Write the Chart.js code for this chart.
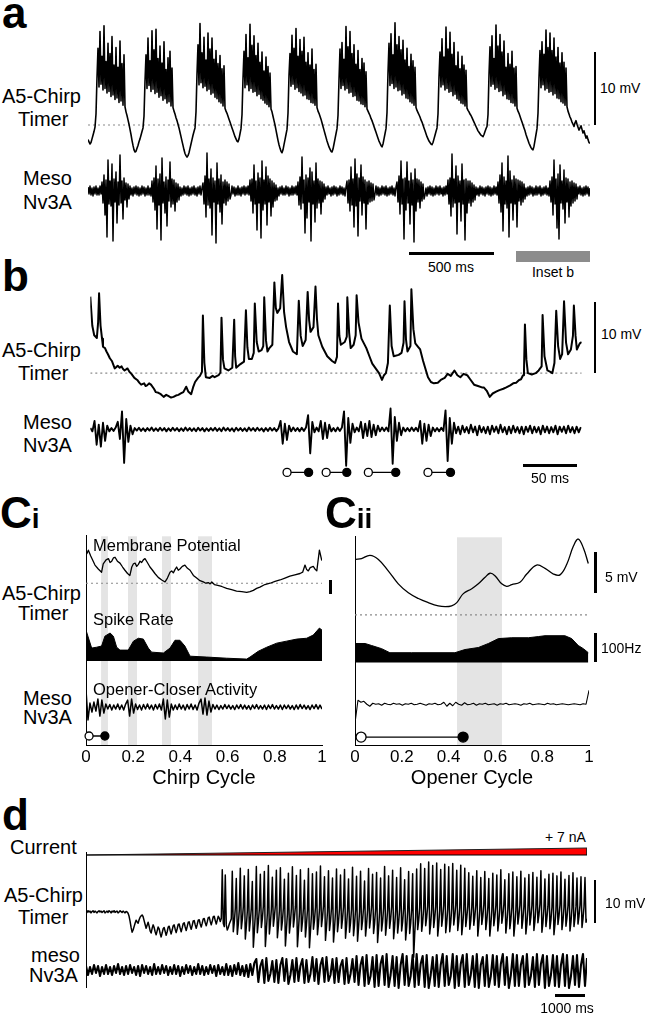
<!DOCTYPE html>
<html>
<head>
<meta charset="utf-8">
<script src="https://cdn.jsdelivr.net/npm/chart.js@4.4.0/dist/chart.umd.min.js"></script>
<style>
body { margin: 0; background: #fff; }
#fig { position: relative; width: 645px; height: 1016px; overflow: hidden; font-family: "Liberation Sans", Arial, sans-serif; color: #000; }
#fig canvas { position: absolute; }
.t { position: absolute; white-space: nowrap; line-height: 1; font-size: 20px; }
.s { position: absolute; white-space: nowrap; line-height: 1; font-size: 14px; }
.c { transform: translateX(-50%); }
.sub { position: absolute; white-space: nowrap; line-height: 1; font-size: 16.5px; }
.bar { position: absolute; background: #000; }
.letter { position: absolute; font-weight: bold; font-size: 44px; line-height: 1; }
</style>
</head>
<body>
<div id="fig">
  <!-- panel a -->
  <div class="letter" style="left:2px;top:-9px">a</div>
  <div class="t" style="left:2px;top:86px">A5-Chirp</div>
  <div class="t" style="left:18px;top:109px">Timer</div>
  <div class="t" style="left:23px;top:168px">Meso</div>
  <div class="t" style="left:23px;top:192px">Nv3A</div>
  <canvas id="chartA" width="502" height="250" style="left:88px;top:0px"></canvas>
  <div class="bar" style="left:594px;top:52px;width:2px;height:73px"></div>
  <div class="s" style="left:600px;top:81px">10 mV</div>
  <div class="bar" style="left:409px;top:252px;width:85px;height:3px"></div>
  <div class="s c" style="left:451px;top:260px">500 ms</div>
  <div class="bar" style="left:516px;top:251px;width:74px;height:11px;background:#8c8c8c"></div>
  <div class="s c" style="left:553px;top:265px">Inset b</div>

  <!-- panel b -->
  <div class="letter" style="left:2px;top:254px">b</div>
  <div class="t" style="left:2px;top:340px">A5-Chirp</div>
  <div class="t" style="left:18px;top:363px">Timer</div>
  <div class="t" style="left:23px;top:412px">Meso</div>
  <div class="t" style="left:23px;top:435px">Nv3A</div>
  <canvas id="chartB" width="502" height="230" style="left:85px;top:262px"></canvas>
  <div class="bar" style="left:594px;top:302px;width:2px;height:71px"></div>
  <div class="s" style="left:601px;top:327px">10 mV</div>
  <div class="bar" style="left:523px;top:464px;width:54px;height:3px"></div>
  <div class="s c" style="left:550px;top:471px">50 ms</div>

  <!-- panel Ci -->
  <div class="letter" style="left:0px;top:491px">C<span style="font-size:28px">i</span></div>
  <div class="t" style="left:2px;top:583px">A5-Chirp</div>
  <div class="t" style="left:18px;top:603px">Timer</div>
  <div class="t" style="left:23px;top:688px">Meso</div>
  <div class="t" style="left:23px;top:707px">Nv3A</div>
  <canvas id="chartCi" width="280" height="265" style="left:60px;top:530px"></canvas>
  <div class="sub" style="left:93px;top:537px">Membrane Potential</div>
  <div class="sub" style="left:93px;top:611px">Spike Rate</div>
  <div class="sub" style="left:93px;top:681px">Opener-Closer Activity</div>
  <div class="bar" style="left:329px;top:580px;width:3px;height:14px"></div>

  <!-- panel Cii -->
  <div class="letter" style="left:325px;top:491px">C<span style="font-size:28px">ii</span></div>
  <canvas id="chartCii" width="280" height="265" style="left:329px;top:530px"></canvas>
  <div class="bar" style="left:594px;top:552px;width:3px;height:41px"></div>
  <div class="s" style="left:605px;top:570px">5 mV</div>
  <div class="bar" style="left:594px;top:633px;width:3px;height:29px"></div>
  <div class="s" style="left:601px;top:641px">100Hz</div>

  <!-- panel d -->
  <div class="letter" style="left:2px;top:793px">d</div>
  <div class="t" style="left:10px;top:837px">Current</div>
  <div class="t" style="left:4px;top:885px">A5-Chirp</div>
  <div class="t" style="left:18px;top:907px">Timer</div>
  <div class="t" style="left:31px;top:945px">meso</div>
  <div class="t" style="left:29px;top:965px">Nv3A</div>
  <div class="s" style="left:545px;top:830px">+ 7 nA</div>
  <canvas id="chartD" width="501" height="170" style="left:86px;top:830px"></canvas>
  <div class="bar" style="left:86px;top:852px;width:1px;height:136px"></div>
  <div class="bar" style="left:594px;top:880px;width:2px;height:43px"></div>
  <div class="s" style="left:605px;top:896px">10 mV</div>
  <div class="bar" style="left:555px;top:994px;width:30px;height:3px"></div>
  <div class="s c" style="left:567px;top:1001px">1000 ms</div>
</div>

<script>
const FONT = '"Liberation Sans", Arial, sans-serif';

// ---------- panel a : both traces sampled every 5.75 ms; timer in mV from rest, meso in a.u.
const aStepMs = 5.75;
const aTimerMv = [
  -2.0, -2.3, -2.6, -2.4, -1.9, -1.4, -0.9, -0.3,
  // chirp 1
  1.5, 6.5, 10.5, 5.2, 12.8, 5.6, 9.4, 4.8, 13.6, 5.0, 8.7, 4.4, 11.2, 4.6, 9.8, 3.9, 12.1, 4.1, 8.2, 3.5, 10.6, 3.7, 7.9, 3.1, 11.5, 3.3, 8.4, 2.7, 9.6, 2.5,
  1.8, 1.3, 0.7, 0.1, -0.6, -1.3, -2.1, -2.8, -3.4, -3.7, -3.6, -3.2, -2.8, -2.3, -1.9, -1.4, -0.9, -0.4,
  // chirp 2
  1.2, 6.0, 9.6, 5.0, 11.9, 5.4, 8.8, 4.6, 12.9, 4.9, 10.3, 4.3, 13.1, 4.5, 9.1, 3.8, 10.8, 4.0, 8.5, 3.4, 11.4, 3.6, 7.6, 3.0, 9.2, 3.2, 10.1, 2.6, 7.8, 2.4,
  1.9, 1.5, 1.0, 0.6, 0.1, -0.4, -1.0, -1.6, -2.2, -2.8, -3.4, -3.9, -4.2, -4.4, -4.2, -3.8, -3.2, -2.6, -2.0, -1.4, -0.9, -0.4,
  // chirp 3
  1.8, 7.0, 11.0, 5.5, 13.9, 5.8, 9.9, 5.1, 12.0, 5.3, 8.9, 4.7, 12.6, 4.9, 10.4, 4.2, 11.9, 4.4, 9.0, 3.8, 10.2, 3.6, 8.4, 3.2, 9.5, 3.0, 7.7, 2.6, 8.1, 2.3,
  1.9, 1.6, 1.2, 0.8, 0.4, 0.0, -0.4, -0.8, -1.2, -1.6, -1.9, -2.2, -2.3, -1.9, -1.2, -0.5,
  // chirp 4
  1.4, 6.4, 10.1, 5.1, 12.4, 5.5, 9.2, 4.7, 13.8, 5.0, 10.9, 4.5, 12.2, 4.6, 9.5, 4.0, 11.2, 4.2, 8.6, 3.6, 10.0, 3.4, 7.4, 3.0, 9.3, 2.8, 8.0, 2.5, 7.1, 2.2,
  1.8, 1.2, 0.6, 0.0, -0.7, -1.4, -2.1, -2.7, -3.2, -3.6, -3.8, -3.4, -2.7, -2.0, -1.3, -0.6,
  // chirp 5
  1.6, 6.8, 9.8, 5.3, 12.3, 5.6, 10.5, 4.9, 13.2, 5.1, 9.4, 4.6, 11.7, 4.4, 10.1, 4.0, 12.0, 4.1, 8.6, 3.6, 9.9, 3.5, 8.2, 3.1, 10.4, 3.0, 7.6, 2.7, 8.3, 2.4,
  1.9, 1.6, 1.2, 0.8, 0.3, -0.2, -0.7, -1.2, -1.7, -2.2, -2.6, -3.0, -3.3, -3.6, -3.7, -3.3, -2.6, -1.9, -1.2, -0.5,
  // chirp 6
  1.3, 6.2, 10.4, 5.0, 11.3, 5.4, 9.0, 4.8, 13.5, 5.0, 10.7, 4.4, 12.8, 4.5, 9.8, 3.9, 11.0, 4.0, 8.3, 3.4, 10.2, 3.3, 7.6, 2.9, 9.1, 2.8, 8.5, 2.5, 7.3, 2.2,
  1.9, 1.6, 1.3, 0.9, 0.6, 0.2, -0.2, -0.6, -1.0, -1.4, -1.8, -2.2, -2.5, -2.8, -3.0, -2.6, -1.9, -1.2, -0.5,
  // chirp 7
  1.7, 7.2, 11.2, 5.4, 12.5, 5.7, 9.6, 5.0, 14.0, 5.2, 11.0, 4.7, 12.1, 4.8, 10.3, 4.1, 11.6, 4.3, 8.9, 3.7, 10.5, 3.6, 8.0, 3.2, 9.7, 3.0, 8.8, 2.7, 7.9, 2.4,
  2.0, 1.7, 1.4, 1.1, 0.7, 0.4, 0.0, -0.4, -0.8, -1.2, -1.6, -1.9, -2.2, -2.4, -2.6, -2.7, -2.4, -1.9, -1.4, -0.9, -0.4,
  // chirp 8
  1.5, 6.6, 10.0, 5.2, 11.8, 5.5, 9.3, 4.8, 13.4, 5.0, 10.4, 4.5, 12.7, 4.6, 9.7, 4.0, 11.3, 4.2, 8.1, 3.6, 10.0, 3.4, 7.7, 3.0, 9.4, 2.9, 8.2, 2.6, 7.5, 2.3,
  2.0, 1.8, 1.5, 1.3, 1.0, 0.7, 0.4, 0.1, -0.2, -0.5, -0.8, -1.0, -1.2, -1.4, -1.5, -1.6, -1.3, -0.9, -0.5, -0.2,
  // chirp 9
  1.4, 6.9, 10.7, 5.3, 12.2, 5.6, 9.1, 4.9, 13.7, 5.1, 10.8, 4.6, 12.4, 4.7, 10.0, 4.0, 11.5, 4.2, 7.9, 3.6, 9.8, 3.5, 8.3, 3.1, 10.1, 3.0, 7.8, 2.6, 8.0, 2.3,
  1.9, 1.6, 1.2, 0.8, 0.4, 0.0, -0.4, -0.8, -1.3, -1.7, -2.1, -2.5, -2.8, -3.1, -3.3, -3.4, -2.9, -2.1, -1.3, -0.5,
  // chirp 10
  1.6, 6.5, 10.2, 5.1, 11.4, 5.5, 9.7, 4.8, 13.0, 5.0, 10.6, 4.5, 12.6, 4.6, 10.2, 4.1, 11.9, 4.3, 9.3, 3.7, 10.6, 3.6, 8.5, 3.2, 9.9, 3.0, 8.6, 2.7, 7.8, 2.5,
  1.9, 1.5, 1.1, 0.8, 0.4, 0.1, -0.2, 0.3, 0.6, 0.1, -0.3, -0.7, -0.4, -0.1, -0.6, -1.1, -0.8, -1.3, -1.8, -1.5, -2.0, -2.4, -2.5
];
const aMeso = [
  0.4, -0.3, 0.5, -0.4, 0.3, -0.5, 0.4, -0.3, 0.5, -0.4, 0.3, -0.4, 0.5, -0.3,
  0.9, -1.2, 1.6, -2.4, 1.1, -4.6, 3.1, -1.3, 1.0, -1.5, 2.7, -5.0, 1.2, -1.1, 1.9, -3.2, 0.9, -1.4, 3.6, -1.2, 1.0, -2.8, 1.3, -0.9, 0.8, -1.6, 0.7, -0.8,
  0.5, -0.4, 0.3, -0.5, 0.4, -0.3, 0.5, -0.4, 0.4, -0.5, 0.3, -0.4, 0.5, -0.3, 0.4, -0.5, 0.3, -0.4, 0.5, -0.4, 0.3, -0.5,
  1.0, -1.1, 1.3, -1.9, 2.5, -3.8, 1.2, -1.4, 1.7, -4.9, 3.3, -1.2, 0.9, -2.2, 1.4, -3.5, 1.1, -1.0, 2.9, -1.6, 1.2, -1.3, 1.1, -2.0, 0.8, -1.1, 0.7, -0.9,
  0.4, -0.5, 0.3, -0.4, 0.5, -0.3, 0.4, -0.4, 0.5, -0.5, 0.3, -0.4, 0.4, -0.3, 0.5, -0.4, 0.3, -0.5, 0.4, -0.3, 0.5, -0.4, 0.3,
  0.8, -1.3, 1.5, -2.6, 3.8, -1.4, 1.2, -1.7, 2.2, -4.4, 1.3, -1.1, 1.0, -5.2, 2.8, -1.3, 1.2, -2.1, 1.6, -3.3, 0.9, -1.2, 1.1, -1.4, 0.9, -1.0, 0.7, -0.8,
  -0.4, 0.5, -0.3, 0.4, -0.5, 0.3, -0.4, 0.5, -0.4, 0.3, -0.5, 0.4, -0.3, 0.5, -0.4, 0.4, -0.3, 0.5, -0.4,
  1.1, -1.0, 1.2, -2.2, 2.6, -1.3, 1.0, -3.9, 1.8, -1.2, 1.3, -4.7, 3.0, -1.9, 1.1, -1.3, 2.4, -3.4, 1.5, -1.1, 1.2, -2.5, 1.0, -1.6, 0.8, -1.0, 0.6, -0.9,
  0.3, -0.5, 0.4, -0.3, 0.5, -0.4, 0.3, -0.4, 0.5, -0.3, 0.4, -0.5, 0.3, -0.4, 0.5, -0.4, 0.4, -0.3, 0.5, -0.4,
  0.9, -1.4, 1.4, -1.8, 3.4, -1.2, 1.1, -4.2, 1.6, -2.7, 1.3, -1.1, 2.3, -5.0, 1.9, -1.3, 1.0, -3.1, 2.8, -1.7, 1.2, -1.2, 1.0, -2.3, 0.9, -1.1, 0.7, -0.8,
  0.4, -0.4, 0.5, -0.3, 0.3, -0.5, 0.4, -0.4, 0.5, -0.3, 0.4, -0.5, 0.3, -0.4, 0.5, -0.3, 0.4, -0.4, 0.3, -0.5, 0.4,
  1.0, -1.2, 1.1, -2.0, 2.4, -1.4, 1.2, -3.6, 3.2, -1.5, 1.7, -4.5, 1.3, -1.0, 2.6, -2.4, 1.4, -1.2, 1.1, -3.8, 0.9, -1.3, 1.0, -1.1, 0.8, -1.0, 0.7, -0.9,
  -0.3, 0.5, -0.4, 0.4, -0.5, 0.3, -0.4, 0.5, -0.3, 0.4, -0.4, 0.5, -0.5, 0.3, -0.4, 0.4, -0.3, 0.5, -0.4, 0.3, -0.5, 0.4,
  0.9, -1.1, 1.5, -2.3, 3.0, -1.3, 1.2, -4.8, 1.3, -1.9, 2.9, -1.2, 1.0, -3.3, 1.8, -1.4, 1.1, -5.1, 2.2, -2.0, 1.2, -1.1, 1.1, -1.7, 0.9, -1.0, 0.7, -0.8,
  -0.4, 0.3, -0.5, 0.4, -0.3, 0.5, -0.4, 0.4, -0.5, 0.3, -0.4, 0.5, -0.3, 0.4, -0.4, 0.5, -0.3, 0.3, -0.5, 0.4, -0.4, 0.5, -0.3,
  1.1, -1.3, 1.3, -2.5, 3.7, -1.6, 1.2, -1.2, 2.5, -4.3, 1.5, -1.1, 1.0, -3.0, 2.7, -1.3, 1.1, -4.9, 1.2, -2.2, 1.0, -1.2, 1.0, -1.5, 0.8, -1.1, 0.6, -0.9,
  0.4, -0.4, 0.3, -0.5, 0.5, -0.3, 0.4, -0.4, 0.3, -0.5, 0.4, -0.3, 0.5, -0.4, 0.4, -0.5, 0.3, -0.4, 0.5, -0.3, 0.4, -0.4,
  0.9, -1.2, 1.6, -2.1, 2.8, -4.0, 1.4, -1.3, 1.0, -1.7, 3.5, -4.6, 2.0, -1.2, 1.1, -2.9, 1.5, -1.3, 1.2, -3.6, 1.1, -1.0, 1.0, -1.4, 0.9, -1.1, 0.7, -0.8,
  0.3, -0.5, 0.4, -0.4, 0.5, -0.3, 0.4, -0.5, 0.3, -0.4, 0.5, -0.4, 0.4, -0.3, 0.5, -0.5, 0.3, -0.4, 0.4, -0.3, 0.5, -0.4, 0.3, -0.5,
  1.0, -1.1, 1.4, -2.4, 3.1, -1.3, 1.2, -3.7, 1.7, -4.8, 2.6, -1.2, 1.0, -1.8, 2.1, -3.2, 1.3, -1.1, 1.2, -2.6, 0.9, -1.5, 1.0, -1.2, 0.8, -1.0, 0.7, -0.8,
  0.4, -0.3, 0.5, -0.4, 0.3, -0.5, 0.4, -0.4, 0.5, -0.3, 0.4, -0.5, 0.3
];

// ---------- panel b : [ms, mV] for the timer, meso sampled every 2 ms
const bTimer = [
  [0, 11.3], [1.9, 7.0], [3.7, 5.6], [6.2, 5.2], [7.4, 7.5], [8.3, 11.8], [9.7, 7.0], [11.1, 5.1], [12.0, 3.9],
  [13.9, 3.7], [15.3, 3.2], [16.7, 2.8], [18.5, 2.2], [20.4, 1.8], [23.1, 0.7], [25.9, 1.1], [27.8, 0.8], [29.6, 1.0],
  [31.0, 0.6], [32.4, 0.4], [35.2, 0.7], [37.0, 0.2], [38.9, -0.1], [41.7, -0.7], [44.4, -1.0], [46.3, -1.4],
  [48.1, -1.7], [50.9, -1.5], [52.3, -1.9], [53.7, -1.8], [55.6, -1.5], [57.4, -1.7], [60.2, -2.3], [62.0, -2.8],
  [64.4, -2.9], [66.7, -3.1], [69.4, -3.5], [71.8, -3.2], [74.1, -3.4], [76.4, -3.6], [78.7, -3.5], [81.0, -3.3],
  [83.3, -3.2], [85.6, -3.0], [88.0, -2.8], [90.7, -2.0], [92.6, -2.7], [95.4, -3.1], [97.2, -2.1], [99.1, -1.3],
  [101.9, -0.7], [103.7, -0.4], [105.6, 0.2], [106.5, 8.5], [107.9, 1.5], [109.3, -0.6], [113.0, -0.7], [115.7, -0.4],
  [117.6, -0.6], [121.3, -0.3], [123.1, 0.1], [124.1, 8.2], [125.5, 2.0], [126.9, 0.7], [130.6, 0.4], [134.3, 0.8],
  [136.1, 7.9], [137.0, 2.5], [138.0, 0.8], [141.7, 1.3], [145.4, 1.7], [147.2, 9.3], [148.6, 3.8], [150.0, 2.1],
  [152.8, 2.1], [154.6, 3.0], [155.6, 10.3], [157.4, 4.6], [159.3, 3.2], [162.0, 3.4], [163.6, 4.0], [164.5, 11.2],
  [166.2, 4.8], [167.6, 3.2], [169.4, 3.7], [172.2, 4.2], [174.1, 13.4], [175.5, 9.6], [176.9, 8.9], [179.6, 9.6],
  [181.5, 14.5], [183.3, 9.0], [185.2, 6.8], [188.0, 4.6], [191.7, 3.2], [195.4, 2.8], [197.2, 10.7], [199.0, 5.5],
  [200.9, 4.0], [203.7, 4.9], [205.6, 12.0], [207.0, 7.8], [208.3, 6.1], [211.1, 6.8], [213.0, 12.8], [214.4, 8.0],
  [215.7, 5.6], [219.4, 3.9], [224.1, 2.5], [228.7, 1.8], [231.5, 1.5], [233.3, 2.4], [234.3, 10.3], [235.6, 5.5],
  [237.0, 4.2], [240.7, 4.6], [242.6, 5.4], [243.1, 11.2], [244.8, 6.0], [246.3, 3.7], [249.1, 4.2], [251.0, 5.6],
  [251.9, 11.5], [253.7, 7.5], [256.5, 5.1], [258.8, 4.4], [261.1, 3.7], [264.0, 2.5], [266.7, 1.4], [270.4, 0.6],
  [273.1, 0.0], [275.9, -1.0], [277.8, -0.3], [279.6, 0.0], [281.5, 1.5], [283.3, 10.0], [285.0, 4.0], [287.0, 2.5],
  [291.7, 2.7], [294.4, 3.0], [296.3, 4.5], [297.2, 10.6], [298.6, 5.0], [300.0, 3.2], [302.8, 4.0], [303.7, 12.4],
  [305.6, 6.5], [307.4, 4.4], [310.0, 3.9], [312.0, 3.5], [314.8, 1.8], [316.7, 0.8], [319.4, -0.6], [322.2, -1.3],
  [325.0, -1.5], [328.7, -1.4], [331.5, -1.0], [335.2, -0.7], [338.0, -0.1], [341.0, -0.4], [344.4, 0.4], [347.2, -0.3],
  [350.0, -0.6], [353.0, -0.1], [356.5, -0.3], [359.3, -0.9], [363.0, -1.7], [366.7, -1.9], [370.4, -2.1], [372.2, -2.1],
  [375.0, -2.6], [377.8, -3.5], [380.6, -3.0], [384.3, -2.7], [387.0, -2.5], [390.7, -2.3], [393.5, -2.1], [397.2, -1.8],
  [400.0, -1.5], [402.8, -1.4], [405.6, -1.0], [407.4, -0.9], [409.3, -0.3], [410.2, 0.3], [411.1, 7.2], [412.5, 2.0],
  [413.9, 0.0], [417.6, -0.2], [421.3, 0.0], [424.1, 0.4], [426.9, 1.0], [427.8, 8.6], [429.6, 2.5], [432.4, 0.4],
  [435.2, 0.2], [437.0, 0.0], [439.0, 1.5], [440.7, 9.2], [442.5, 4.0], [444.4, 2.1], [446.3, 2.8], [448.1, 10.6],
  [450.0, 4.5], [451.9, 2.8], [454.6, 3.5], [456.5, 5.5], [457.4, 10.0], [459.0, 5.5], [460.2, 3.5], [463.0, 4.4],
  [464.8, 4.6]
];
const bStepMs = 2;
const bMeso = [
  0.15, -0.2,
  0.9, -1.6, 0.5, -1.8, 0.7, -1.2, 0.4,
  -0.2, 0.15, -0.15, 0.2,
  0.8, -1.0, 1.9, -3.5, 1.1, -1.3,
  0.4, -0.5,
  0.15, -0.12, 0.18, -0.15, 0.12, -0.18, 0.15, -0.12, 0.2, -0.15,
  0.12, -0.15, 0.18, -0.12, 0.15, -0.2, 0.12, -0.15, 0.18, -0.12,
  0.15, -0.18, 0.12, -0.15, 0.2, -0.12, 0.15, -0.15, 0.12, -0.18,
  0.18, -0.12, 0.15, -0.2, 0.12, -0.15, 0.15, -0.12, 0.18, -0.15,
  0.12, -0.18, 0.2, -0.12, 0.15, -0.15, 0.12, -0.2, 0.18, -0.12,
  0.15, -0.15, 0.12, -0.18, 0.2, -0.12, 0.15, -0.15, 0.18, -0.12,
  0.12, -0.2, 0.15, -0.15, 0.18, -0.12, 0.15, -0.18, 0.12,
  0.9, -1.5, 0.6, -1.1, 0.4,
  -0.2, 0.2, -0.15, 0.15, -0.2, 0.18, -0.15, 0.2,
  1.5, -2.5, 0.8,
  -0.3, 0.2, -0.2,
  0.9, -1.0, 0.7, -0.9, 0.5,
  -0.2, 0.15, -0.2, 0.2, -0.15, 0.2,
  1.9, -3.8, 1.2, -1.4, 0.6,
  -0.3, 0.2, -0.2,
  0.8, -0.9, 0.6, -0.7, 0.9, -0.8, 0.5, -0.6, 0.4,
  -0.2, 0.2, -0.15, 0.2, -0.2,
  2.2, -3.6, 1.3, -1.2, 0.7, -0.6,
  0.2, -0.2, 0.15, -0.18, 0.2, -0.15, 0.18, -0.2,
  0.9, -1.5, 0.6, -1.2, 0.5, -0.7,
  0.2, -0.2, 0.15, -0.2, 0.18, -0.15,
  2.0, -3.3, 1.2, -1.5, 0.7,
  -0.4, 0.3, -0.5, 0.4, -0.3, 0.25, -0.4, 0.5, -0.3, 0.3,
  -0.6, 0.4, -0.3, 0.25, -0.4, 0.3, -0.5, 0.4, -0.25, 0.3,
  -0.4, 0.5, -0.3, 0.25, -0.5, 0.3, -0.4, 0.4, -0.3, 0.25,
  -0.4, 0.3, -0.5, 0.3, -0.25, 0.4, -0.4, 0.3, -0.3, 0.25,
  -0.5, 0.4, -0.3, 0.3, -0.4, 0.25, -0.3, 0.4, -0.5, 0.3,
  -0.25, 0.3, -0.4, 0.4, -0.3, 0.25, -0.4, 0.3, -0.3, 0.25
];
const bOpenerMs = [186.1, 223.1, 263.0, 319.4];
const bCloserMs = [206.5, 242.6, 288.9, 340.7];

// ---------- panel Ci : chirp cycle phase 0..1
const ciMembrane = [
  [0.003, 4.5], [0.010, 5.1], [0.020, 4.2], [0.038, 2.8], [0.052, 2.2], [0.066, 1.7], [0.073, 3.0], [0.085, 3.6],
  [0.095, 3.8], [0.102, 3.2], [0.109, 3.4], [0.116, 3.9], [0.123, 4.0], [0.133, 3.4], [0.144, 3.1], [0.155, 2.5],
  [0.165, 2.0], [0.176, 1.5], [0.186, 1.2], [0.194, 2.5], [0.201, 3.0], [0.208, 3.1], [0.215, 2.6], [0.222, 2.9],
  [0.229, 3.4], [0.236, 3.2], [0.243, 3.6], [0.250, 3.8], [0.260, 3.2], [0.271, 2.5], [0.282, 2.0], [0.292, 1.5],
  [0.306, 0.9], [0.321, 0.5], [0.335, 0.2], [0.345, 0.8], [0.356, 1.7], [0.363, 1.9], [0.370, 1.6], [0.377, 2.1],
  [0.384, 2.5], [0.391, 2.0], [0.398, 2.2], [0.408, 2.6], [0.419, 2.8], [0.430, 2.3], [0.441, 2.0], [0.455, 1.2],
  [0.469, 0.8], [0.483, 0.4], [0.497, 0.2], [0.508, 0.0], [0.518, 0.1], [0.526, -0.1], [0.533, 0.2], [0.544, -0.2],
  [0.554, -0.3], [0.575, -0.5], [0.596, -0.8], [0.617, -1.0], [0.638, -1.2], [0.660, -1.3], [0.681, -1.4],
  [0.695, -1.3], [0.709, -1.1], [0.723, -0.8], [0.737, -0.6], [0.758, -0.2], [0.780, 0.0], [0.801, 0.3],
  [0.822, 0.5], [0.843, 0.8], [0.864, 1.1], [0.885, 1.3], [0.907, 1.5], [0.918, 1.7], [0.928, 2.8], [0.935, 2.1],
  [0.942, 1.9], [0.950, 2.4], [0.963, 2.6], [0.970, 2.2], [0.978, 1.9], [0.989, 5.1], [0.999, 3.5]
];
const ciRate = [
  [0.0, 107], [0.024, 45], [0.045, 48], [0.066, 52], [0.080, 86], [0.102, 97], [0.116, 86], [0.130, 48],
  [0.144, 38], [0.179, 38], [0.201, 69], [0.222, 79], [0.243, 76], [0.264, 45], [0.278, 31], [0.328, 28],
  [0.356, 45], [0.377, 72], [0.398, 72], [0.419, 52], [0.441, 17], [0.511, 14], [0.596, 10], [0.681, 7],
  [0.695, 14], [0.730, 34], [0.766, 48], [0.808, 62], [0.850, 69], [0.893, 76], [0.935, 79], [0.963, 90],
  [0.989, 114], [1.0, 107]
];
const ciMeso = [
  1.7, -1.3, 0.4, -0.5, 0.5, -0.4,
  0.8, -0.9, 0.7, -0.6,
  0.3, -0.2, 0.25, -0.3, 0.2, -0.2, 0.3, -0.25, 0.2, -0.3, 0.3,
  0.7, -0.9, 0.8, -0.6,
  0.3, -0.25, 0.2, -0.3, 0.25, -0.2, 0.3, -0.2, 0.2, -0.3, 0.25, -0.2, 0.3, -0.3,
  0.8, -1.2, 0.7, -1.0,
  0.3, -0.3, 0.2, -0.25, 0.3, -0.2, 0.2, -0.3, 0.25, -0.2, 0.3, -0.25, 0.2, -0.3, 0.4,
  0.8, -0.7, 0.9, -0.8, 0.6, -0.5,
  0.25, -0.2, 0.2, -0.25, 0.15, -0.2, 0.25, -0.15, 0.2, -0.2,
  0.15, -0.25, 0.2, -0.15, 0.25, -0.2, 0.2, -0.2, 0.15, -0.25,
  0.2, -0.15, 0.25, -0.2, 0.15, -0.2, 0.2, -0.25, 0.2, -0.15,
  0.25, -0.2, 0.15, -0.2, 0.2, -0.25, 0.2, -0.15, 0.2, -0.2,
  0.15, -0.25, 0.2, -0.2, 0.25, -0.15, 0.2, -0.2, 0.15, -0.25,
  0.2, -0.15, 0.25, -0.2, 0.2, -0.2
];
const ciBands = [[0.064, 0.093], [0.178, 0.216], [0.322, 0.360], [0.475, 0.534]];
const ciOpener = [0.013];
const ciCloser = [0.080];

// ---------- panel Cii : opener cycle phase 0..1
const ciiMembrane = [
  [0.003, 6.8], [0.028, 6.9], [0.064, 7.3], [0.100, 6.8], [0.142, 5.4], [0.185, 3.8], [0.228, 2.7], [0.271, 2.0],
  [0.313, 1.5], [0.356, 1.1], [0.385, 1.0], [0.413, 1.1], [0.435, 1.5], [0.463, 2.6], [0.499, 3.2], [0.527, 3.8],
  [0.556, 4.6], [0.577, 5.1], [0.598, 4.8], [0.627, 3.8], [0.648, 3.5], [0.670, 3.7], [0.705, 4.0], [0.734, 5.0],
  [0.776, 6.1], [0.812, 5.7], [0.848, 5.0], [0.876, 4.9], [0.905, 6.2], [0.933, 8.4], [0.954, 9.3], [0.976, 8.2],
  [0.997, 6.3]
];
const ciiRate = [
  [0.0, 66], [0.043, 66], [0.071, 59], [0.114, 48], [0.149, 34], [0.242, 34], [0.427, 34], [0.470, 45],
  [0.527, 52], [0.570, 66], [0.613, 83], [0.670, 86], [0.741, 86], [0.784, 90], [0.812, 93], [0.897, 93],
  [0.926, 83], [0.954, 59], [0.976, 48], [0.997, 34]
];
const ciiMeso = [
  -1.9, 0.4, 0.2, 0.3, 0.0, -0.2, 0.1, 0.0, 0.05, -0.1, 0.1, 0.0, -0.05, 0.1, 0.0, 0.05, -0.1, 0.05, 0.0, 0.1,
  -0.05, 0.0, 0.1, 0.0, -0.1, 0.05, 0.0, 0.1, -0.05, 0.0, 0.2, -0.2, 0.1, -0.15, 0.2, 0.0, -0.1, 0.15, -0.05, 0.0,
  0.1, -0.1, 0.05, 0.0, 0.1, -0.05, 0.0, 0.05, -0.1, 0.05, 0.0, 0.1, -0.05, 0.0, 0.05, 0.0, -0.1, 0.05, 0.0, 0.1,
  -0.05, 0.0, 0.05, 0.0, -0.05, 0.1, 0.0, 0.05, -0.05, 0.0, 0.05, 0.0, -0.05, 0.0, 0.05, 0.0, -0.05, 0.05, 0.0, 1.4
];
const ciiBands = [[0.436, 0.628]];
const ciiOpener = [0.026];
const ciiCloser = [0.462];

// ---------- panel d : timer every 33.4 ms, meso every 66.8 ms
const dRampMs = [0, 16700];
const dRampNa = [0, 7];
const dTimerStepMs = 33.4;
const dTimerMv = [
  // resting, then the first dip and the subthreshold ripple
  0.2, -0.1, 0.3, 0.0, 0.2, -0.2, 0.1, 0.3, -0.1, 0.2, 0.0, -0.2, 0.1, 0.3, 0.0, 0.2, -0.1, 0.1, 0.3, -0.2,
  0.0, 0.2, -0.1, 0.3, 0.1, -0.2, 0.2, 0.0, 0.3, -0.1, 0.1, 0.2, -0.2, 0.0, 0.3, 0.1, -0.1, 0.2, 0.0, -0.2, 0.1, 0.0,
  -0.3, -1.0, -2.2, -3.6, -4.7, -4.2, -3.4, -2.6, -1.9, -2.3, -2.6, -1.8, -1.2, -0.9, -0.7, -1.1,
  -2.0, -2.9, -3.8, -3.1, -2.4, -3.3, -4.4, -4.9, -3.8, -3.0, -3.6, -4.6, -5.3, -4.4, -3.5, -3.9, -5.0, -5.8, -4.9, -3.9,
  -3.6, -4.5, -5.4, -4.6, -3.5, -3.3, -4.3, -5.1, -4.2, -3.2, -3.0, -4.0, -4.8, -3.9, -2.9, -2.8, -3.8, -4.6, -3.7, -2.7,
  -2.5, -3.5, -4.3, -3.4, -2.4, -2.3, -3.3, -4.0, -3.1, -2.1, -2.0, -3.0, -3.8, -2.9, -1.9, -1.8, -2.8, -3.5, -2.6, -1.6,
  -1.5, -2.5, -3.2, -2.3, -1.3, -1.2, -2.2, -3.0, -2.1, -1.1, -1.0, -2.0, -2.8, -1.9, -1.0, -1.4, -2.2, -1.5,
  // first spikes
  9.8, -2.6, -3.4, 8.6, -3.0, -4.2, -3.6, -2.8, -2.2, -1.6,
  // tonic spiking: peak, after-hyperpolarisation, ramp
  9.5, -4.6, -2.4, 0.8, 7.8, -5.2, -2.9, 0.5, 10.2, -3.9, -1.8, 1.2, 8.4, -6.3, -3.5, 0.2, 9.9, -4.4, -2.1, 0.9,
  7.1, -8.2, -4.6, -0.5, 10.6, -4.8, -2.5, 0.7, 8.8, -3.6, -1.6, 1.4, 9.4, -8.0, -4.4, -0.3, 10.8, -5.1, -2.7, 0.6,
  8.1, -3.3, -1.2, 1.5, 9.7, -6.0, -3.3, 0.3, 10.3, -4.2, -2.2, 1.0, 7.6, -7.9, -4.3, -0.4, 9.0, -4.9, -2.6, 0.8,
  10.5, -3.5, -1.4, 1.3, 8.5, -8.1, -4.5, -0.2, 9.8, -4.5, -2.3, 0.9, 7.4, -5.8, -3.1, 0.4, 10.1, -8.3, -4.6, -0.6,
  8.9, -4.0, -2.0, 1.1, 9.3, -5.3, -2.8, 0.6, 10.7, -3.4, -1.3, 1.4, 8.2, -6.6, -3.6, 0.1, 9.6, -4.3, -2.2, 0.9,
  7.9, -7.0, -3.9, 0.0, 10.0, -4.6, -2.4, 0.8, 8.6, -3.8, -1.7, 1.2, 9.9, -6.1, -3.3, 0.3, 7.7, -4.7, -2.5, 0.7,
  10.4, -5.5, -3.0, 0.5, 8.3, -6.8, -3.7, 0.1, 9.5, -4.1, -2.1, 1.0, 7.2, -5.6, -3.0, 0.5, 10.1, -3.7, -1.6, 1.3,
  8.8, -5.0, -2.7, 0.6, 9.2, -7.1, -3.9, 0.0, 7.9, -4.4, -2.3, 0.9, 10.6, -5.4, -2.9, 0.5, 8.4, -3.8, -1.8, 1.2,
  9.7, -6.2, -3.4, 0.2, 8.0, -4.9, -2.6, 0.7, 10.3, -4.4, -2.3, 0.9, 7.5, -6.5, -3.6, 0.2, 9.4, -5.0, -2.7, 0.6,
  8.9, -10.5, -5.4, -1.0, 10.0, -4.1, -2.1, 1.0, 11.2, -4.5, -2.4, 0.8, 10.1, -3.2, -1.3, 1.4, 11.6, -5.1, -2.8, 0.6,
  10.8, -3.6, -1.5, 1.3, 11.4, -5.6, -3.1, 0.4, 9.9, -3.3, -1.3, 1.5, 11.1, -4.8, -2.6, 0.7, 10.5, -4.6, -2.5, 0.8,
  11.3, -3.0, -1.1, 1.6, 9.7, -4.3, -2.2, 1.0, 10.9, -5.3, -2.9, 0.5, 10.2, -3.4, -1.4, 1.3, 9.1, -4.0, -2.0, 1.1,
  8.3, -3.1, -1.2, 1.5, 9.6, -5.6, -3.0, 0.4, 8.0, -2.9, -1.1, 1.6, 9.4, -4.1, -2.1, 1.0, 7.8, -5.6, -3.0, 0.4,
  9.0, -3.2, -1.3, 1.4, 8.6, -4.4, -2.3, 0.9, 9.8, -2.6, -0.9, 1.7, 7.5, -4.9, -2.6, 0.7, 8.9, -3.9, -1.9, 1.1,
  9.3, -5.6, -3.0, 0.4, 8.2, -2.8, -1.0, 1.6, 9.5, -3.8, -1.8, 1.2, 7.9, -5.1, -2.7, 0.6, 8.7, -3.0, -1.2, 1.5,
  9.2, -4.3, -2.2, 1.0, 8.1, -2.5, -0.8, 1.8, 9.6, -4.7, -2.5, 0.8, 7.7, -3.4, -1.4, 1.3, 8.8, -3.9, -1.9, 1.1,
  9.0, -5.3, -2.9, 0.5, 8.4, -2.9, -1.1, 1.6, 9.3, -4.1, -2.1, 1.0, 7.6, -3.3, -1.4, 1.4, 8.5, -4.4, -2.3, 0.9,
  9.1, -3.4, -1.5, 1.3, 7.9, -2.8, -1.0, 1.6, 8.2, -3.6, -1.6, 1.2,
  8.0, -2.4, -1.6
];
const dMesoStepMs = 66.8;
const dMeso = [
  0.4, -0.5, 0.3, -0.4, 0.5, -0.3, 0.4, -0.6, 0.3, -0.4,
  0.5, -0.4, 0.3, -0.5, 0.4, -0.3, 0.6, -0.4, 0.3, -0.5,
  0.4, -0.4, 0.5, -0.3, 0.3, -0.5, 0.4, -0.6, 0.5, -0.3,
  0.4, -0.4, 0.3, -0.5, 0.6, -0.4, 0.3, -0.4, 0.5, -0.3,
  0.4, -0.5, 0.3, -0.4, 0.5, -0.4, 0.4, -0.6, 0.3, -0.4,
  0.5, -0.3, 0.4, -0.5, 0.3, -0.4, 0.6, -0.4, 0.4, -0.5,
  0.3, -0.4, 0.5, -0.3, 0.4, -0.6, 0.5, -0.4, 0.3, -0.5,
  0.6, -0.5, 0.4, -0.6, 0.5, -0.4, 0.7, -0.5, 0.4, -0.6,
  0.5, -0.7, 0.6, -0.5, 0.7,
  1.1, -1.2, 0.4, 1.0, -1.3, 1.2, -1.1, -0.4, 0.9, -1.2,
  1.0, -1.3, 0.5, 1.2, -1.1, 1.1, -1.4, -0.5, 1.0, -1.2,
  1.2, -1.1, 0.4, 1.1, -1.3, 1.0, -1.2, -0.4, 1.3, -1.1,
  1.1, -1.4, 0.5, 1.2, -1.2, 1.3, -1.1, -0.5, 1.1, -1.3,
  1.2, -1.2, 0.4, 1.0, -1.4, 1.2, -1.3, -0.4, 1.1, -1.2,
  1.4, -1.5, 0.5, 1.3, -1.6, 1.5, -1.4, -0.6, 1.3, -1.7,
  1.5, -1.6, 0.6, 1.4, -1.5, 1.6, -1.7, -0.5, 1.4, -1.6,
  1.3, -1.8, 0.5, 1.6, -1.5, 1.4, -1.6, -0.6, 1.5, -1.7,
  1.6, -1.5, 0.6, 1.4, -1.7, 1.5, -1.8, -0.5, 1.3, -1.6,
  1.5, -1.7, 0.5, 1.6, -1.6, 1.4, -1.5, -0.6, 1.6, -1.8,
  1.4, -1.6, 0.6, 1.5, -1.7, 1.6, -1.5, -0.5, 1.4, -1.7,
  1.6, -1.8, 0.5, 1.3, -1.6, 1.5, -1.7, -0.6, 1.5, -1.5,
  1.4, -1.7, 0.6, 1.6, -1.5, 1.3, -1.8, -0.5, 1.6, -1.6,
  1.5, -1.6, 0.5, 1.4, -1.7, 1.6, -1.5, -0.6, 1.3, -1.7,
  1.6, -1.5, 0.6, 1.5, -1.8, 1.4, -1.6, -0.5, 1.5, -1.6,
  1.4, -1.7, 0.5, 1.6, -1.6, 1.5, -1.8, -0.6, 1.4, -1.5,
  1.5, -1.7, 0.5, 1.6, -1.6, 1.2
];

// ---------- helpers
const sampled = (vals, dt) => vals.map((y, i) => ({x: i * dt, y}));
const pairs = list => list.map(p => ({x: p[0], y: p[1]}));
const level = (x0, x1, y) => [{x: x0, y}, {x: x1, y}];

function trace(data, axis, width) {
  return {data, yAxisID: axis, borderColor: '#000', borderWidth: width, order: 2};
}
function dashed(x0, x1, axis) {
  return {data: level(x0, x1, 0), yAxisID: axis, borderColor: '#8a8a8a', borderWidth: 1.2, borderDash: [2, 3], order: 6};
}
function markers(open, close, y, axis, r) {
  const link = [];
  open.forEach((t, i) => link.push({x: t, y}, {x: close[i], y}, {x: close[i], y: null}));
  const dot = fill => ({
    yAxisID: axis, showLine: false, pointRadius: r, pointBackgroundColor: fill,
    pointBorderColor: '#000', pointBorderWidth: 1.3, order: 0, clip: 10
  });
  return [
    {data: link, yAxisID: axis, borderColor: '#000', borderWidth: 1.3, spanGaps: false, order: 1},
    Object.assign(dot('#fff'), {data: open.map(t => ({x: t, y}))}),
    Object.assign(dot('#000'), {data: close.map(t => ({x: t, y}))})
  ];
}

function options(scales, padding) {
  const s = {};
  for (const k in scales) s[k] = Object.assign({type: 'linear', display: false}, scales[k]);
  return {
    responsive: false, animation: false, events: [],
    layout: {padding: padding || 0},
    elements: {point: {radius: 0}, line: {tension: 0, borderJoinStyle: 'round'}},
    plugins: {legend: {display: false}, tooltip: {enabled: false}},
    scales: s
  };
}

// shaded phase bands behind the C traces
const bandPlugin = {
  id: 'bands',
  beforeDatasetsDraw(chart, args, opts) {
    const {ctx, chartArea, scales} = chart;
    ctx.save();
    ctx.fillStyle = '#e4e4e4';
    (opts.ranges || []).forEach(([a, b]) => {
      const x1 = scales.x.getPixelForValue(a);
      const x2 = scales.x.getPixelForValue(b);
      ctx.fillRect(x1, chartArea.top + 1, x2 - x1, chartArea.bottom - chartArea.top - 1);
    });
    ctx.restore();
  }
};

function cycleAxis(title) {
  return {
    display: true, min: 0, max: 1,
    grid: {display: false, drawTicks: false},
    border: {display: true, color: '#000', width: 1},
    ticks: {
      stepSize: 0.2, padding: 2, color: '#000', maxRotation: 0, autoSkip: false,
      font: {family: FONT, size: 17},
      callback: v => String(Math.round(v * 10) / 10)
    },
    title: {display: true, text: title, color: '#000', font: {family: FONT, size: 20}, padding: {top: 0, bottom: 5}},
    afterFit: s => { s.height = 50; }
  };
}
function leftEdge(min, max) {
  return {
    display: true, min, max, position: 'left',
    ticks: {display: false}, grid: {display: false, drawTicks: false},
    border: {display: true, color: '#000', width: 1},
    afterFit: s => { s.width = 0; }
  };
}

// ---------- panel a
const aEnd = (aTimerMv.length - 1) * aStepMs;
new Chart(document.getElementById('chartA'), {
  type: 'line',
  data: {datasets: [
    trace(sampled(aTimerMv, aStepMs), 'yV', 1.6),
    dashed(0, aEnd, 'yV'),
    trace(sampled(aMeso, aStepMs), 'yM', 1.5)
  ]},
  options: options({
    x: {min: 0, max: aEnd},
    yV: {min: -17.12, max: 17.12},
    yM: {min: -5.9, max: 19.1}
  })
});

// ---------- panel b
const bEnd = bTimer[bTimer.length - 1][0];
new Chart(document.getElementById('chartB'), {
  type: 'line',
  data: {datasets: [
    ...markers(bOpenerMs, bCloserMs, -4.5, 'yM', 4),
    trace(pairs(bTimer), 'yV', 2.0),
    dashed(0, bEnd, 'yV'),
    trace(sampled(bMeso, bStepMs), 'yM', 1.9)
  ]},
  options: options({
    x: {min: 0, max: bEnd},
    yV: {min: -16.76, max: 15.63},
    yM: {min: -6.0, max: 17.0}
  })
});

// ---------- panel Ci
const ciOptions = options({
  x: cycleAxis('Chirp Cycle'),
  yMem: leftEdge(-24.92, 7.385),
  yRate: {min: -289.7, max: 434.5},
  yOpen: {min: -3.8, max: 17.2}
}, {left: 26, right: 18, top: 5, bottom: 0});
ciOptions.plugins.bands = {ranges: ciBands};
new Chart(document.getElementById('chartCi'), {
  type: 'line',
  data: {datasets: [
    ...markers(ciOpener, ciCloser, -2.9, 'yOpen', 4),
    trace(pairs(ciMembrane), 'yMem', 1.3),
    dashed(0, 1, 'yMem'),
    {data: pairs(ciRate), yAxisID: 'yRate', borderColor: '#000', borderWidth: 1, backgroundColor: '#000', fill: 'origin', order: 3},
    trace(sampled(ciMeso, 1 / (ciMeso.length - 1)), 'yOpen', 1.5)
  ]},
  options: ciOptions,
  plugins: [bandPlugin]
});

// ---------- panel Cii
const ciiOptions = options({
  x: cycleAxis('Opener Cycle'),
  yMem: leftEdge(-15.976, 9.634),
  yRate: {min: -286.2, max: 437.9},
  yOpen: {min: -4.1, max: 16.9}
}, {left: 26, right: 20, top: 5, bottom: 0});
ciiOptions.plugins.bands = {ranges: ciiBands};
new Chart(document.getElementById('chartCii'), {
  type: 'line',
  data: {datasets: [
    ...markers(ciiOpener, ciiCloser, -3.3, 'yOpen', 5),
    Object.assign(trace(pairs(ciiMembrane), 'yMem', 1.3), {tension: 0.4}),
    dashed(0, 1, 'yMem'),
    {data: pairs(ciiRate), yAxisID: 'yRate', borderColor: '#000', borderWidth: 1, backgroundColor: '#000', fill: 'origin', order: 3},
    trace(sampled(ciiMeso, 1 / (ciiMeso.length - 1)), 'yOpen', 1.1)
  ]},
  options: ciiOptions,
  plugins: [bandPlugin]
});

// ---------- panel d
const dEnd = dRampMs[1];
const rampFill = ctx => {
  const area = ctx.chart.chartArea;
  if (!area) return '#f00';
  const g = ctx.chart.ctx.createLinearGradient(area.left, 0, area.right, 0);
  g.addColorStop(0, '#333');
  g.addColorStop(0.2, '#d01010');
  g.addColorStop(0.35, '#ff0000');
  g.addColorStop(1, '#ff0000');
  return g;
};
new Chart(document.getElementById('chartD'), {
  type: 'line',
  data: {datasets: [
    {data: [{x: dRampMs[0], y: dRampNa[0]}, {x: dRampMs[1], y: dRampNa[1]}, {x: dRampMs[1], y: 0}],
     yAxisID: 'yI', borderColor: '#222', borderWidth: 1, backgroundColor: rampFill, fill: 'origin', order: 1},
    {data: level(dRampMs[0], dRampMs[1], 0), yAxisID: 'yI', borderColor: '#000', borderWidth: 1.2, order: 0},
    trace(sampled(dTimerMv, dTimerStepMs), 'yV', 1.5),
    trace(sampled(dMeso, dMesoStepMs), 'yM', 2.1)
  ]},
  options: options({
    x: {min: 0, max: dEnd},
    yI: {min: -145, max: 25},
    yV: {min: -20.47, max: 19.07},
    yM: {min: -3.0, max: 14.0}
  })
});
</script>
</body>
</html>
